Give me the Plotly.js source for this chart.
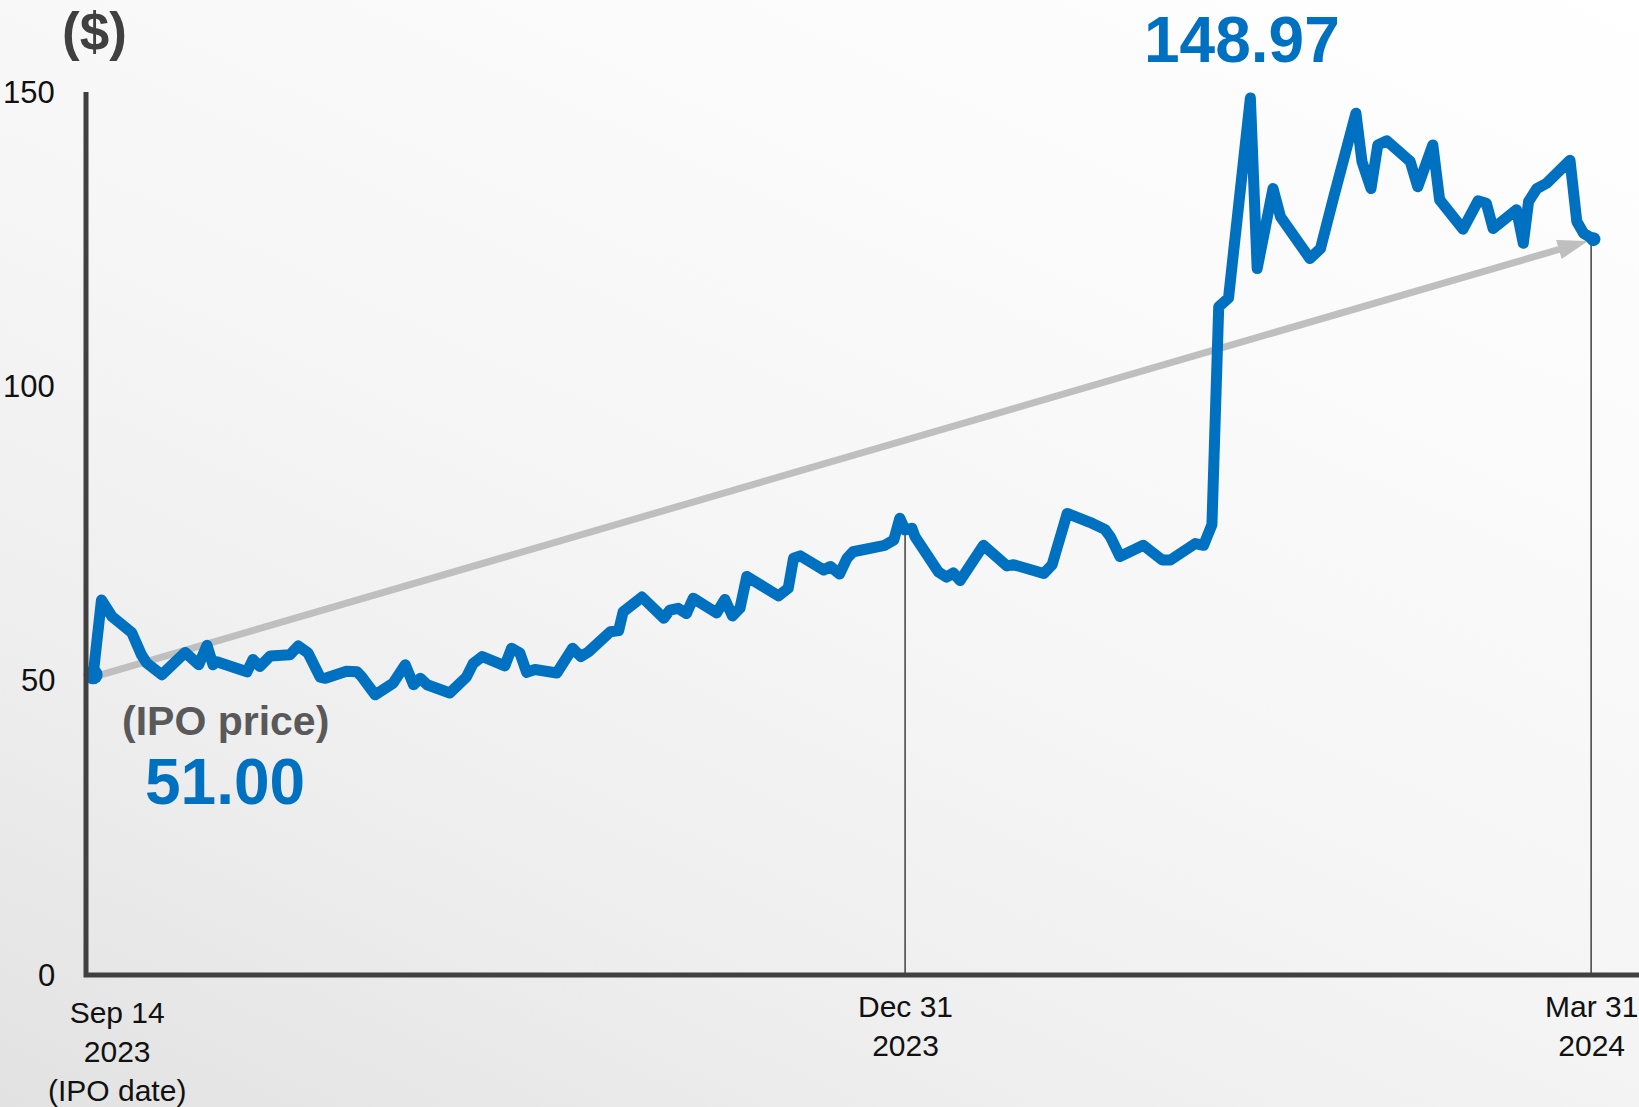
<!DOCTYPE html>
<html><head><meta charset="utf-8">
<script src="https://cdn.plot.ly/plotly-3.0.1.min.js"></script>
<style>
html,body{margin:0;padding:0;}
body{width:1639px;height:1107px;overflow:hidden;background:linear-gradient(25deg,#e2e2e2 0%,#eeeeee 25%,#f6f6f6 50%,#fbfbfb 75%,#ffffff 100%);}
#chart{width:1639px;height:1107px;}
.scatterlayer .js-line{stroke-linejoin:round;}
</style></head><body><div id="chart"></div>
<script>
// Days after the IPO date (Sep 14, 2023) and the share price in $
const dayOffset = [0.3,1.4,2.8,5.4,6.7,7.4,9.4,12.5,14.3,15.4,16.2,16.7,20.7,21.5,22.4,23.8,26.4,27.5,28.8,30.4,
  31.1,33.9,35.3,35.9,37.7,40.1,41.7,42.8,43.7,44.6,47.6,49.8,50.7,51.9,54.9,55.8,56.9,57.8,58.9,61.8,
  63.9,65.0,66.0,68.9,70.0,70.6,73.1,76.0,76.8,77.9,79.0,79.9,83.0,84.1,85.1,86.1,87.0,90.5,91.2,92.5,
  93.2,94.1,97.2,98.1,99.3,100.3,101.1,105.3,106.5,107.3,108.0,108.9,109.3,112.4,113.5,114.4,115.3,118.4,121.5,122.4,
  126.4,127.5,129.5,132.5,134.5,135.2,136.5,139.6,140.9,142.1,143.2,146.5,147.6,148.7,149.6,150.9,153.8,154.7,156.8,157.8,
  161.7,163.1,164.8,167.8,168.6,169.8,170.7,171.9,175.0,176.0,178.0,178.9,182.0,184.0,185.1,186.0,189.1,190.0,190.7,191.8,
  193.1,196.2,197.1,198.0,199.3];
const price = [51.00,63.7,60.9,58.2,54.4,53.0,51.0,54.8,52.7,56.0,52.7,53.2,51.5,53.6,52.4,54.2,54.4,55.9,54.7,50.6,
  50.4,51.6,51.5,50.7,47.6,49.6,52.7,49.3,50.4,49.3,47.9,50.6,52.9,54.1,52.5,55.5,54.7,51.4,51.9,51.3,
  55.5,54.1,54.9,58.3,58.5,61.7,64.2,60.6,62.0,62.3,61.4,64.0,61.5,63.8,61.0,62.3,67.7,64.6,64.4,65.7,
  70.8,71.2,68.8,69.4,68.1,70.8,71.9,73.0,73.9,77.6,75.6,75.9,74.5,68.5,67.6,68.3,67.0,73.0,69.5,69.7,
  68.2,69.7,78.4,76.9,75.7,74.5,71.1,73.0,71.6,70.5,70.5,73.3,73.0,76.5,113.5,115.0,148.97,120.0,133.6,128.8,
  121.7,123.4,131.9,146.4,138.2,133.6,141.0,141.7,138.2,133.9,141.0,131.7,126.7,131.5,131.1,126.8,130.0,124.3,131.4,133.6,
  134.5,138.4,128.0,126.0,125.0];

const ipoPrice = 51.00;
const peakPrice = 148.97;
const yTicks = [0, 50, 100, 150];
const xTickDays = [0, 108, 199];
const xTickLabels = ['Sep 14<br>2023<br>(IPO date)', 'Dec 31<br>2023', 'Mar 31<br>2024'];
const dropLineDays = [108, 199];
const arrowDay = [0.3, 198.6];
const arrowPrice = [50.6, 124.7];

// ---- layout constants (pixels) ----
const W = 1639, H = 1107;
const M = {l: 86, r: 0, t: 92, b: 132};
const PW = W - M.l - M.r, PH = H - M.t - M.b;
const px = x => (x - M.l) / PW;
const py = y => (H - M.b - y) / PH;

const BLUE = '#0070C0', DARK = '#404040', GRAY = '#BFBFBF';
const FONT = 'Liberation Sans, Arial, Helvetica, sans-serif';

function interp(d) {
  for (let i = 1; i < dayOffset.length; i++) {
    if (d <= dayOffset[i]) {
      const t = (d - dayOffset[i-1]) / (dayOffset[i] - dayOffset[i-1]);
      return price[i-1] + t * (price[i] - price[i-1]);
    }
  }
  return price[price.length - 1];
}

const traces = [
  { // gray trend arrow
    x: arrowDay, y: arrowPrice, mode: 'lines+markers', hoverinfo: 'skip',
    line: {color: GRAY, width: 7},
    marker: {symbol: ['circle', 'arrow'], size: [0, 32], color: GRAY, opacity: 1, angleref: 'previous', line: {width: 0}}
  },
  { // price line
    x: dayOffset, y: price, mode: 'lines', hoverinfo: 'skip',
    line: {color: BLUE, width: 11}
  },
  { // end dots
    x: [dayOffset[0], dayOffset[dayOffset.length-1]], y: [price[0], price[price.length-1]],
    mode: 'markers', cliponaxis: false, hoverinfo: 'skip',
    marker: {color: BLUE, opacity: 1, size: [19, 14], line: {width: 0}}
  }
];

const shapes = [
  {type: 'path', xref: 'paper', yref: 'paper', path: 'M0,1 L0,0 L1,0',
   line: {color: DARK, width: 5}, layer: 'above'}
];
dropLineDays.forEach(d => shapes.push({
  type: 'line', xref: 'x', yref: 'y', x0: d, x1: d, y0: 0, y1: interp(d),
  line: {color: DARK, width: 1.5}, layer: 'below'
}));

const annotations = [];
yTicks.forEach(v => annotations.push({
  text: String(v), xref: 'paper', yref: 'y', x: px(57), y: v, xanchor: 'right', yanchor: 'middle',
  showarrow: false, font: {family: FONT, size: 31, color: '#111'}
}));
xTickDays.forEach((d, i) => annotations.push({
  text: xTickLabels[i], xref: 'x', yref: 'y', x: d, y: 0, xanchor: 'center', yanchor: 'top',
  xshift: i === 0 ? 26 : 0, yshift: i === 0 ? -19 : -13,
  showarrow: false, font: {family: FONT, size: 30, color: '#111'}
}));
annotations.push(
  {text: '($)', xref: 'paper', yref: 'paper', x: px(94.5), y: py(32), xanchor: 'center', yanchor: 'middle',
   showarrow: false, font: {family: FONT, size: 53, color: DARK, weight: 700}},
  {text: peakPrice.toFixed(2), xref: 'paper', yref: 'paper', x: px(1242), y: py(40), xanchor: 'center', yanchor: 'middle',
   showarrow: false, font: {family: FONT, size: 64, color: BLUE, weight: 700}},
  {text: '(IPO price)', xref: 'paper', yref: 'paper', x: px(225), y: py(721), xanchor: 'center', yanchor: 'middle',
   showarrow: false, font: {family: FONT, size: 41, color: '#595959', weight: 700}},
  {text: ipoPrice.toFixed(2), xref: 'paper', yref: 'paper', x: px(225), y: py(782), xanchor: 'center', yanchor: 'middle',
   showarrow: false, font: {family: FONT, size: 64, color: BLUE, weight: 700}}
);

const layout = {
  width: W, height: H, margin: {l: M.l, r: M.r, t: M.t, b: M.b, pad: 0, autoexpand: false},
  paper_bgcolor: 'rgba(0,0,0,0)', plot_bgcolor: 'rgba(0,0,0,0)',
  showlegend: false,
  xaxis: {range: [-0.65, 205.35], visible: false, fixedrange: true},
  yaxis: {range: [0, 150], visible: false, fixedrange: true},
  shapes: shapes, annotations: annotations,
  font: {family: FONT}
};

Plotly.newPlot('chart', traces, layout, {staticPlot: true});
</script></body></html>
